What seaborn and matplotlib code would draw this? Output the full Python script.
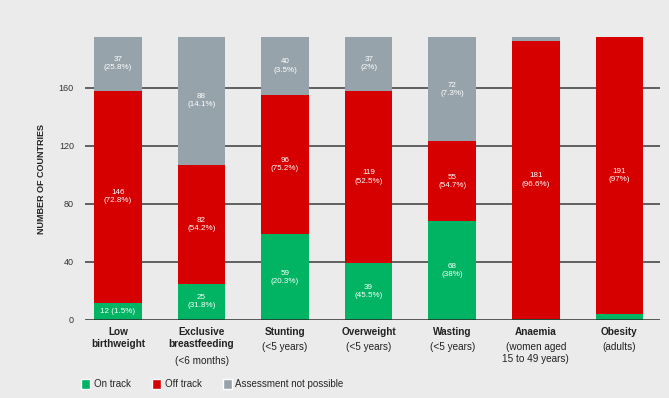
import matplotlib
matplotlib.use("Agg")
import matplotlib.pyplot as plt
import matplotlib.transforms as mtransforms
from matplotlib.patches import Patch
import numpy as np
import pandas as pd
import seaborn as sns

categories = ["Low birthweight", "Exclusive breastfeeding", "Stunting", "Overweight",
              "Wasting", "Anaemia", "Obesity"]
bold_labels = ["Low\nbirthweight", "Exclusive\nbreastfeeding", "Stunting", "Overweight",
               "Wasting", "Anaemia", "Obesity"]
sub_labels = ["", "(<6 months)", "(<5 years)", "(<5 years)", "(<5 years)",
              "(women aged\n15 to 49 years)", "(adults)"]
on_track = [12, 25, 59, 39, 68, 1, 4]
off_track = [146, 82, 96, 119, 55, 191, 191]
not_possible = [37, 88, 40, 37, 72, 3, 0]
on_text = ["12 (1.5%)", "25\n(31.8%)", "59\n(20.3%)", "39\n(45.5%)", "68\n(38%)", "", ""]
off_text = ["146\n(72.8%)", "82\n(54.2%)", "96\n(75.2%)", "119\n(52.5%)", "55\n(54.7%)",
            "181\n(96.6%)", "191\n(97%)"]
np_text = ["37\n(25.8%)", "88\n(14.1%)", "40\n(3.5%)", "37\n(2%)", "72\n(7.3%)", "", ""]
yticks = [0, 40, 80, 120, 160]

GREEN = "#00b463"
RED = "#d70000"
GRAY = "#97a3ab"
BG = "#ebebeb"

sns.set_style("white")
FONT = ["Liberation Sans Narrow", "Liberation Sans", "DejaVu Sans"]
plt.rcParams["font.family"] = FONT

df = pd.DataFrame({"cat": categories, "on": on_track, "off": off_track, "np": not_possible})
df["on_off"] = df["on"] + df["off"]
df["total"] = df["on_off"] + df["np"]

fig = plt.figure(figsize=(6.69, 3.98), dpi=100, facecolor=BG)
ax = fig.add_axes([0.127, 0.196, 0.86, 0.711])
ax.set_facecolor(BG)

W = 0.57
kw = dict(width=W, saturation=1, ax=ax, zorder=3, linewidth=0, edgecolor="none")
sns.barplot(data=df, x="cat", y="total", color=GRAY, **kw)
sns.barplot(data=df, x="cat", y="on_off", color=RED, **kw)
sns.barplot(data=df, x="cat", y="on", color=GREEN, **kw)

ax.set_ylim(0, 195)
ax.set_xlim(-0.395, 6.49)
ax.set_yticks(yticks)
ax.set_yticklabels([str(v) for v in yticks], fontsize=6.5, color="#333333")
for y in yticks[1:]:
    ax.axhline(y, color="#3a3a3a", lw=1.1, zorder=1)
ax.axhline(0, color="#2a2a2a", lw=1.8, zorder=4)
ax.tick_params(axis="y", length=6, width=1.1, color="#3a3a3a", pad=2)
ax.tick_params(axis="x", length=0)
for s in ax.spines.values():
    s.set_visible(False)
ax.set_xlabel("")
ax.set_ylabel("NUMBER OF COUNTRIES", fontsize=6.5, fontweight="bold", color="#222222",
              labelpad=9)

# bar annotations
tk = dict(ha="center", va="center", color="white", fontsize=5.8, zorder=5, linespacing=1.25)
for i in range(len(categories)):
    if on_text[i]:
        ax.text(i, on_track[i] / 2, on_text[i], **tk)
    if off_text[i]:
        ax.text(i, on_track[i] + off_track[i] / 2, off_text[i], **tk)
    if np_text[i]:
        ax.text(i, on_track[i] + off_track[i] + not_possible[i] / 2, np_text[i], **tk)

# x labels: bold name + regular sub label
ax.set_xticks(range(len(categories)))
ax.set_xticklabels([])
trans = mtransforms.blended_transform_factory(ax.transData, ax.transAxes)
LINE = 10.6  # points per text line
for i in range(len(categories)):
    nb = bold_labels[i].count("\n") + 1
    ax.annotate(bold_labels[i], xy=(i, 0), xycoords=trans, xytext=(0, -5),
                textcoords="offset points", ha="center", va="top", fontsize=7.2,
                fontweight="bold", color="#222222", linespacing=1.25)
    if sub_labels[i]:
        ax.annotate(sub_labels[i], xy=(i, 0), xycoords=trans, xytext=(0, -5 - nb * LINE),
                    textcoords="offset points", ha="center", va="top", fontsize=7.2,
                    color="#222222", linespacing=1.25)

handles = [Patch(facecolor=GREEN, label="On track"),
           Patch(facecolor=RED, label="Off track"),
           Patch(facecolor=GRAY, label="Assessment not possible")]
fig.legend(handles=handles, loc="lower left", bbox_to_anchor=(0.108, 0.0), ncol=3,
           frameon=False, fontsize=7, handlelength=0.9, handleheight=1.2,
           handletextpad=0.4, columnspacing=2.2)

fig.savefig("out.png", dpi=100, facecolor=BG)
